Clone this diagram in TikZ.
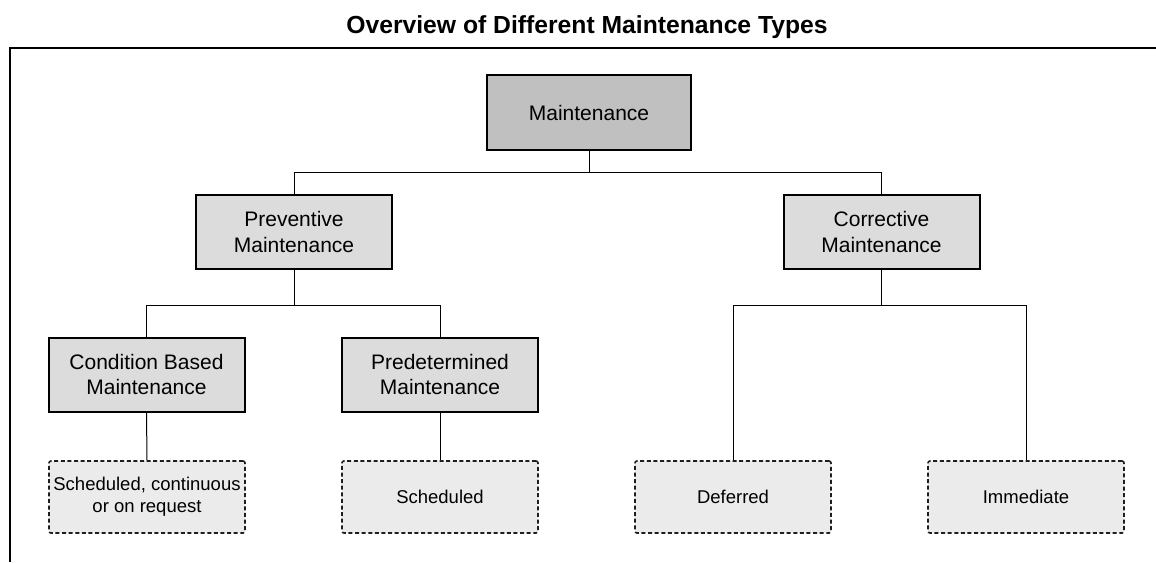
\documentclass[tikz,border=0pt]{standalone}
\usepackage{fontspec}
\setmainfont{Liberation Sans}
\definecolor{rootfill}{HTML}{C0C0C0}
\definecolor{typefill}{HTML}{DCDCDC}
\definecolor{leaffill}{HTML}{EBEBEB}
\definecolor{leafline}{HTML}{1E1E1E}
\begin{document}
\begin{tikzpicture}[x=1pt,y=-1pt,
  typebox/.style={draw=black, line width=2pt, fill=typefill, align=center,
    minimum width=196pt, minimum height=74pt, inner sep=0pt,
    font=\fontsize{21}{25.5}\selectfont},
  rootbox/.style={typebox, fill=rootfill, minimum width=204pt, minimum height=75pt},
  leafbox/.style={draw=leafline, line width=1.6pt, dash pattern=on 4pt off 2.6pt,
    rounded corners=2pt, fill=leaffill, align=center,
    minimum width=196pt, minimum height=72pt, inner sep=0pt,
    font=\fontsize{18.5}{21.7}\selectfont},
  link/.style={draw=black, line width=1pt}]
\useasboundingbox (0,0) rectangle (1156,562);

% heading and frame
\node[font=\fontsize{24.7}{29}\selectfont\bfseries] (title) at (587,27) {Overview of Different Maintenance Types};
\draw[line width=2.5pt] (10,562) -- (10,48) -- (1160,48);

% tree of maintenance types
\node[rootbox] (maint) at (589,112.5) {Maintenance};
\node[typebox] (prev) at (294,232) {Preventive\\Maintenance};
\node[typebox] (corr) at (881.5,232) {Corrective\\Maintenance};
\node[typebox] (cond) at (146.5,374.5) {Condition Based\\Maintenance};
\node[typebox] (pred) at (440,374.5) {Predetermined\\Maintenance};
\node[leafbox] (contin) at (147,497) {Scheduled, continuous\\or on request};
\node[leafbox] (sched) at (440,497) {Scheduled};
\node[leafbox] (defer) at (733,497) {Deferred};
\node[leafbox] (immed) at (1026,497) {Immediate};

% connectors
\draw[link] (maint.south) -- ++(0,21.5) -| (prev.north);
\draw[link] (maint.south) -- ++(0,21.5) -| (corr.north);
\draw[link] (prev.south) -- ++(0,35) -| (cond.north);
\draw[link] (prev.south) -- ++(0,35) -| (pred.north);
\draw[link] (corr.south) -- ++(0,35) -| (defer.north);
\draw[link] (corr.south) -- ++(0,35) -| (immed.north);
\draw[link] (cond.south) -- (contin.north);
\draw[link] (pred.south) -- (sched.north);
\end{tikzpicture}
\end{document}
